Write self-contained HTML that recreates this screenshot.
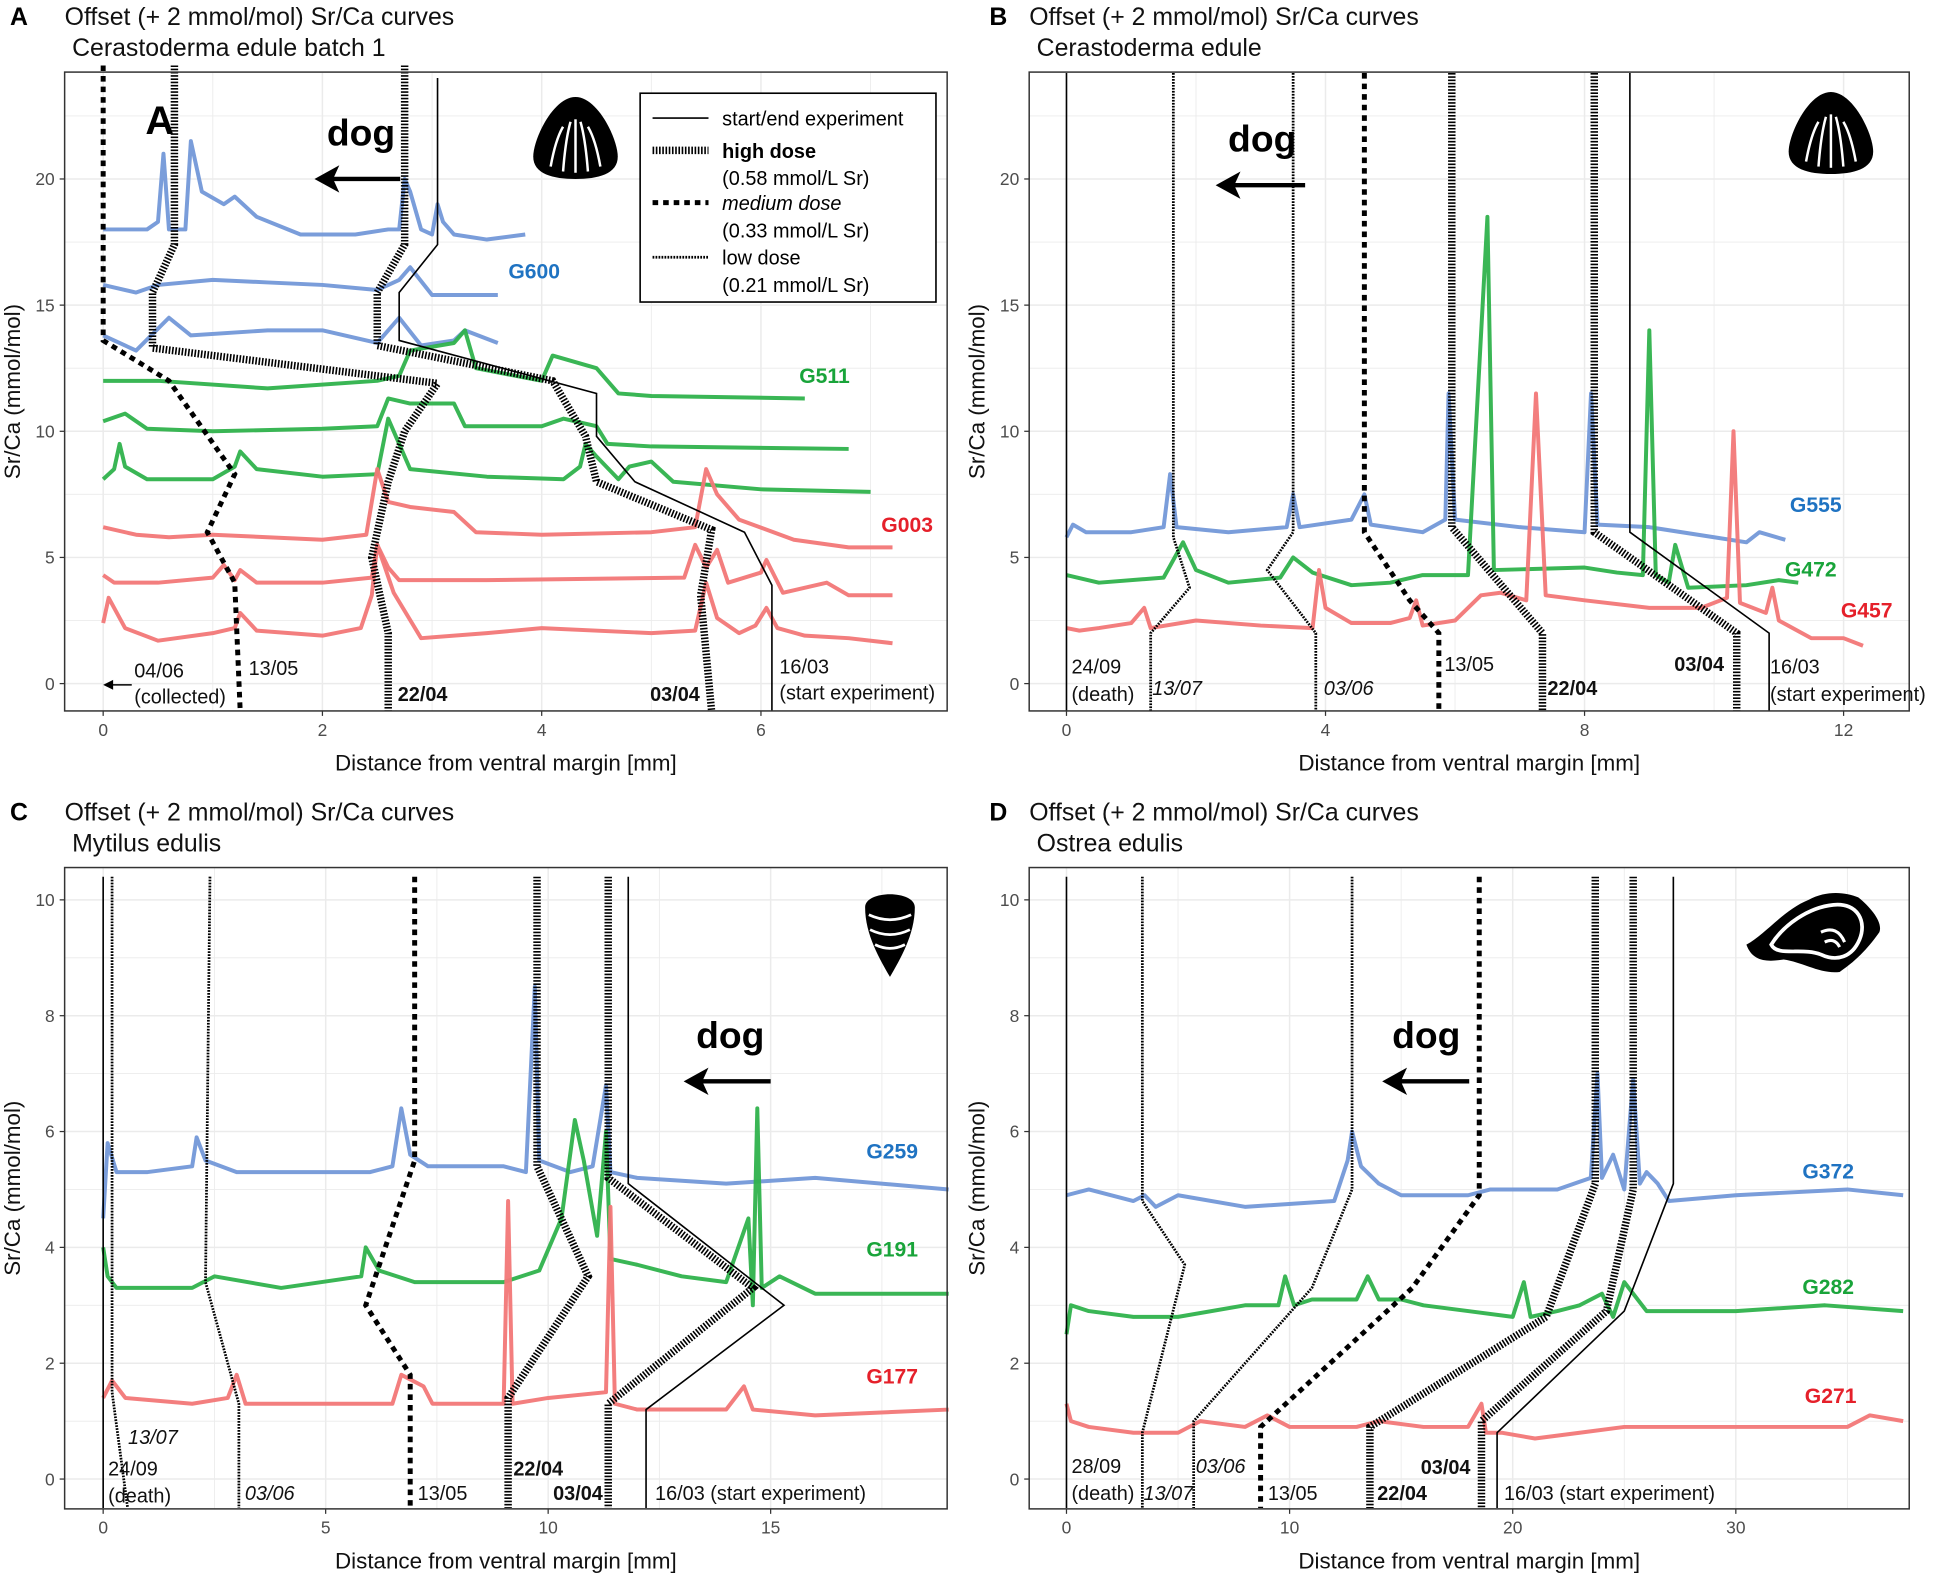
<!DOCTYPE html>
<html><head><meta charset="utf-8"><style>
html,body{margin:0;padding:0;background:#fff}
svg{display:block}
text{font-family:"Liberation Sans",Arial,sans-serif}
</style></head><body>
<svg id="fig" width="1949" height="1576" viewBox="0 0 1568 1268" preserveAspectRatio="none" xmlns="http://www.w3.org/2000/svg">
<rect width="1568" height="1268" fill="#fff"/>
</svg>
<script>
// ---------- DATA ----------
const aBlue1=[[0,18],[0.4,18],[0.5,18.3],[0.55,21],[0.6,18],[0.75,18],[0.8,21.5],[0.9,19.5],[1.1,19],[1.2,19.3],[1.4,18.5],[1.8,17.8],[2.3,17.8],[2.6,18],[2.7,18],[2.75,20],[2.8,19.5],[2.9,18],[3.0,17.8],[3.05,19],[3.1,18.3],[3.2,17.8],[3.5,17.6],[3.85,17.8]];
const aBlue2=[[0,15.8],[0.3,15.5],[0.5,15.8],[1,16],[1.5,15.9],[2,15.8],[2.5,15.6],[2.7,16],[2.8,16.5],[3,15.4],[3.6,15.4]];
const aBlue3=[[0,13.8],[0.3,13.2],[0.6,14.5],[0.8,13.8],[1.5,14],[2,14],[2.5,13.5],[2.7,14.5],[2.9,13.4],[3.2,13.6],[3.3,14],[3.6,13.5]];
const aGreen1=[[0,12],[0.5,12],[1.5,11.7],[2.5,12],[2.7,12.2],[2.8,13.2],[3.2,13.5],[3.3,14],[3.4,12.5],[4,12],[4.1,13],[4.5,12.5],[4.7,11.5],[5,11.4],[6.4,11.3]];
const aGreen2=[[0,10.4],[0.2,10.7],[0.4,10.1],[1,10],[2,10.1],[2.5,10.2],[2.6,11.3],[2.8,11.1],[3.2,11.1],[3.3,10.2],[4,10.2],[4.2,10.5],[4.5,10.2],[4.6,9.5],[5,9.4],[6.8,9.3]];
const aGreen3=[[0,8.1],[0.1,8.5],[0.15,9.5],[0.2,8.6],[0.4,8.1],[1,8.1],[1.2,8.6],[1.25,9.2],[1.4,8.5],[2,8.2],[2.5,8.3],[2.6,10.5],[2.7,9.5],[2.8,8.5],[3.5,8.2],[4.2,8.1],[4.35,8.6],[4.4,9.5],[4.5,9],[4.7,8.1],[4.8,8.6],[5,8.8],[5.2,8],[6,7.7],[7,7.6]];
const aRed1=[[0,6.2],[0.3,5.9],[0.6,5.8],[1,5.9],[1.5,5.8],[2,5.7],[2.4,5.9],[2.5,8.5],[2.6,7.2],[2.8,7],[3.2,6.8],[3.4,6],[4,5.9],[5,6],[5.4,6.2],[5.5,8.5],[5.6,7.5],[5.8,6.5],[6.3,5.7],[6.8,5.4],[7.2,5.4]];
const aRed2=[[0,4.3],[0.1,4],[0.5,4],[1,4.2],[1.1,4.7],[1.2,4.1],[1.25,4.5],[1.4,4],[2,4],[2.45,4.2],[2.5,5.5],[2.6,4.6],[2.7,4.1],[3.5,4.1],[5.3,4.2],[5.4,5.5],[5.5,4.6],[5.6,5.3],[5.7,4],[6,4.4],[6.05,4.9],[6.2,3.6],[6.6,4],[6.8,3.5],[7.2,3.5]];
const aRed3=[[0,2.4],[0.05,3.4],[0.2,2.2],[0.5,1.7],[1,2],[1.2,2.2],[1.25,2.8],[1.4,2.1],[2,1.9],[2.35,2.2],[2.45,3.5],[2.5,5.5],[2.65,3.6],[2.9,1.8],[3.5,2],[4,2.2],[5,2],[5.4,2.1],[5.5,4],[5.6,2.6],[5.8,2],[5.95,2.3],[6.05,3],[6.15,2.2],[6.4,1.9],[6.8,1.8],[7.2,1.6]];
const aMed=[[0,24.5],[0,13.6],[0.6,12],[1.2,8.3],[0.95,6],[1.2,4],[1.25,-1.1]];
const aHigh1=[[0.65,24.5],[0.65,17.4],[0.45,15.5],[0.45,13.3],[3.05,11.9],[2.75,10],[2.6,8],[2.45,5],[2.6,2],[2.6,-1.1]];
const aHigh2=[[2.75,24.5],[2.75,17.4],[2.5,15.5],[2.5,13.4],[4.1,12],[4.4,9.8],[4.5,8],[5.55,6.1],[5.45,3.5],[5.55,-1.1]];
const aStart=[[3.05,24],[3.05,17.4],[2.7,15.5],[2.7,13.6],[4.5,11.5],[4.5,9.8],[4.85,8],[5.85,6],[6.1,3.9],[6.1,-1.1]];

const bBlue=[[0,5.8],[0.1,6.3],[0.3,6],[1,6],[1.5,6.2],[1.6,8.3],[1.7,6.2],[2.5,6],[3.4,6.2],[3.5,7.5],[3.6,6.2],[4.4,6.5],[4.6,7.5],[4.7,6.3],[5.5,6],[5.85,6.5],[5.9,11.5],[6.0,6.5],[7,6.2],[8,6],[8.1,11.5],[8.2,6.3],[9,6.2],[10,5.8],[10.5,5.6],[10.7,6],[11.1,5.7]];
const bGreen=[[0,4.3],[0.5,4],[1.5,4.2],[1.8,5.6],[2,4.5],[2.5,4],[3.3,4.2],[3.5,5],[3.8,4.4],[4.4,3.9],[5,4],[5.5,4.3],[6.2,4.3],[6.5,18.5],[6.6,4.5],[8,4.6],[8.5,4.4],[8.9,4.3],[9,14],[9.1,4.3],[9.3,4],[9.4,5.5],[9.6,3.8],[10.5,3.9],[11,4.1],[11.3,4]];
const bRed=[[0,2.2],[0.2,2.1],[0.5,2.2],[1,2.4],[1.2,3],[1.3,2.2],[2,2.5],[3,2.3],[3.8,2.2],[3.9,4.5],[4,3],[4.4,2.4],[5,2.4],[5.3,2.6],[5.4,3.3],[5.5,2.3],[6,2.5],[6.4,3.5],[6.7,3.6],[7.1,3.3],[7.25,11.5],[7.4,3.5],[8,3.3],[9,3],[9.8,3],[10.2,3.4],[10.3,10],[10.4,3.2],[10.8,2.8],[10.9,3.8],[11,2.5],[11.5,1.8],[12,1.8],[12.3,1.5]];
const bStart0=[[0,24.2],[0,-1.1]];
const bLow1=[[1.65,24.2],[1.65,5.8],[1.9,3.8],[1.3,2],[1.3,-1.1]];
const bLow2=[[3.5,24.2],[3.5,6],[3.1,4.5],[3.85,2],[3.85,-1.1]];
const bMed=[[4.6,24.2],[4.6,6],[5.3,3.3],[5.75,2],[5.75,-1.1]];
const bHigh1=[[5.95,24.2],[5.95,6.2],[7.35,2],[7.35,-1.1]];
const bHigh2=[[8.15,24.2],[8.15,6],[10.35,2],[10.35,-1.1]];
const bStart=[[8.7,24.2],[8.7,6],[10.85,2],[10.85,-1.1]];

const cBlue=[[0,4.5],[0.1,5.8],[0.3,5.3],[1,5.3],[2,5.4],[2.1,5.9],[2.3,5.5],[3,5.3],[4,5.3],[6,5.3],[6.5,5.4],[6.7,6.4],[6.9,5.6],[7.3,5.4],[9,5.4],[9.5,5.3],[9.7,8.5],[9.8,5.5],[10.5,5.3],[11,5.4],[11.3,6.8],[11.4,5.3],[12,5.2],[14,5.1],[16,5.2],[19,5]];
const cGreen=[[0,4],[0.1,3.5],[0.3,3.3],[2,3.3],[2.5,3.5],[4,3.3],[5.8,3.5],[5.9,4],[6.2,3.6],[7,3.4],[9,3.4],[9.8,3.6],[10.3,4.5],[10.6,6.2],[10.8,5.5],[11.1,4.2],[11.3,6],[11.4,3.8],[12,3.7],[13,3.5],[14,3.4],[14.5,4.5],[14.6,3],[14.7,6.4],[14.8,3.3],[15.2,3.5],[16,3.2],[19,3.2]];
const cRed=[[0,1.4],[0.2,1.7],[0.5,1.4],[2,1.3],[2.8,1.4],[3,1.8],[3.2,1.3],[5,1.3],[6.5,1.3],[6.7,1.8],[7.2,1.6],[7.4,1.3],[9,1.3],[9.1,4.8],[9.2,1.3],[10,1.4],[11.3,1.5],[11.4,4.7],[11.5,1.3],[12,1.2],[13,1.2],[14,1.2],[14.4,1.6],[14.6,1.2],[16,1.1],[19,1.2]];
const cStart0=[[0,10.4],[0,-0.5]];
const cLow1=[[0.2,10.4],[0.2,1.5],[0.55,-0.5]];
const cLow2=[[2.4,10.4],[2.3,3.4],[3.05,1.3],[3.05,-0.5]];
const cMed=[[7,10.4],[7,5.5],[5.9,3],[6.9,1.8],[6.9,-0.5]];
const cHigh1=[[9.75,10.4],[9.75,5.4],[10.9,3.5],[9.1,1.4],[9.1,-0.5]];
const cHigh2=[[11.35,10.4],[11.35,5.2],[14.6,3.3],[11.35,1.3],[11.35,-0.5]];
const cStart=[[11.8,10.4],[11.8,5.1],[15.3,3],[12.2,1.2],[12.2,-0.5]];

const dBlue=[[0,4.9],[1,5],[3,4.8],[3.5,4.9],[4,4.7],[5,4.9],[8,4.7],[12,4.8],[12.6,5.5],[12.8,6],[13.2,5.4],[14,5.1],[15,4.9],[18,4.9],[19,5],[22,5],[23.5,5.2],[23.8,7],[24,5.2],[24.5,5.6],[25,5],[25.4,6.9],[25.7,5.1],[26,5.3],[26.5,5.1],[27,4.8],[30,4.9],[35,5],[37.5,4.9]];
const dGreen=[[0,2.5],[0.2,3],[1,2.9],[3,2.8],[5,2.8],[8,3],[9.5,3],[9.8,3.5],[10.2,3],[11,3.1],[13,3.1],[13.5,3.5],[14,3.1],[15,3.1],[16,3],[18,2.9],[20,2.8],[20.5,3.4],[20.8,2.8],[22,2.9],[23,3],[24,3.2],[24.5,2.8],[25,3.4],[26,2.9],[30,2.9],[34,3],[37.5,2.9]];
const dRed=[[0,1.3],[0.2,1],[1,0.9],[3,0.8],[5,0.8],[6,1],[8,0.9],[9,1.1],[10,0.9],[13,0.9],[14,1],[16,0.9],[18,0.9],[18.6,1.3],[18.8,0.8],[19.5,0.8],[21,0.7],[23,0.8],[25,0.9],[30,0.9],[35,0.9],[36,1.1],[37.5,1]];
const dStart0=[[0,10.4],[0,-0.5]];
const dLow1=[[3.4,10.4],[3.4,4.8],[5.3,3.7],[3.4,0.8],[3.4,-0.5]];
const dLow2=[[12.8,10.4],[12.8,5],[11,3.3],[5.7,1],[5.7,-0.5]];
const dMed=[[18.5,10.4],[18.5,4.9],[15.5,3.3],[8.7,0.9],[8.7,-0.5]];
const dHigh1=[[23.7,10.4],[23.7,5.1],[21.5,2.8],[13.6,0.9],[13.6,-0.5]];
const dHigh2=[[25.4,10.4],[25.4,5],[24.2,2.9],[18.6,1],[18.6,-0.5]];
const dStart=[[27.2,10.4],[27.2,5.1],[25,2.9],[19.3,0.8],[19.3,-0.5]];

const xTicksA=[0,2,4,6], yTicksA=[0,5,10,15,20];
const xTicksB=[0,4,8,12];
const xTicksC=[0,5,10,15], yTicksC=[0,2,4,6,8,10];
const xTicksD=[0,10,20,30];

// ---------- DRAW ----------
const NS="http://www.w3.org/2000/svg";
const svg=document.getElementById('fig');
function el(tag,attrs,parent){const e=document.createElementNS(NS,tag);for(const k in attrs)e.setAttribute(k,attrs[k]);(parent||svg).appendChild(e);return e;}
function txt(s,x,y,size,attrs,name){const t=el('text',Object.assign({x:x,y:y,'font-size':size},attrs||{}));t.textContent=s;


return t;}
const COL={blue:"#7398d8",green:"#2fb24c",red:"#f27777"};
const LCOL={blue:"#1f73c2",green:"#19a43a",red:"#e5202a"};
const STY={
 solid:{w:1.3,d:null},
 high:{w:6,d:"1.3 1.3"},
 med:{w:4,d:"4.5 4"},
 low:{w:2.2,d:"1.4 1"}
};

function panel(cfg){
 const g=el('g',{});
 
 
 const sx=v=>cfg.px0+v*cfg.kx, sy=v=>cfg.py0-v*cfg.ky;
 const B=cfg.box;
 const grid=el('g',{},g);
 
 
 const xs=cfg.xt, ys=cfg.yt;
 const dx=xs[1]-xs[0], dy=ys[1]-ys[0];
 for(let v=xs[0]-dx;v<=xs[xs.length-1]+dx;v+=dx/2){const p=sx(v);if(p>B[0]&&p<B[2])el('line',{x1:p,x2:p,y1:B[1],y2:B[3],stroke:"#ebebeb","stroke-width":Math.abs((v/dx)%1)<1e-6?1.2:0.7},grid);}
 for(let v=ys[0]-dy;v<=ys[ys.length-1]+dy;v+=dy/2){const p=sy(v);if(p>B[1]&&p<B[3])el('line',{x1:B[0],x2:B[2],y1:p,y2:p,stroke:"#ebebeb","stroke-width":Math.abs((v/dy)%1)<1e-6?1.2:0.7},grid);}
 cfg.series.forEach(s=>{
  const p=el('polyline',{points:s.d.map(q=>sx(q[0])+","+sy(q[1])).join(" "),fill:"none",stroke:COL[s.c],"stroke-width":3.2,"stroke-linejoin":"round",opacity:0.95},g);
  
  
 });
 cfg.lines.forEach(s=>{
  const st=STY[s.t];
  const a={points:s.d.map(q=>sx(q[0])+","+sy(q[1])).join(" "),fill:"none",stroke:"#000","stroke-width":st.w};
  if(st.d)a["stroke-dasharray"]=st.d;
  const p=el('polyline',a,g);
  
  
 });
 const r=el('rect',{x:B[0],y:B[1],width:B[2]-B[0],height:B[3]-B[1],fill:"none",stroke:"#333","stroke-width":1.2},g);
 
 
 xs.forEach(v=>{el('line',{x1:sx(v),x2:sx(v),y1:B[3],y2:B[3]+4,stroke:"#333"},g);txt(String(v),sx(v),B[3]+20,14,{fill:"#4d4d4d","text-anchor":"middle"},'x-tick-label');});
 ys.forEach(v=>{el('line',{x1:B[0]-4,x2:B[0],y1:sy(v),y2:sy(v),stroke:"#333"},g);txt(String(v),B[0]-8,sy(v)+5,14,{fill:"#4d4d4d","text-anchor":"end"},'y-tick-label');});
 txt("Distance from ventral margin [mm]",(B[0]+B[2])/2,B[3]+48,18,{"text-anchor":"middle",fill:"#111"},'x-axis-title');
 txt("Sr/Ca (mmol/mol)",0,0,18,{"text-anchor":"middle",fill:"#111",transform:`translate(${B[0]-36},${(B[1]+B[3])/2}) rotate(-90)`},'y-axis-title');
 txt(cfg.letter,cfg.lx,B[1]-38,20,{"font-weight":"bold"},'panel-letter');
 txt("Offset (+ 2 mmol/mol) Sr/Ca curves",B[0],B[1]-38,20,{fill:"#111"},'panel-title');
 txt(cfg.sub,B[0]+6,B[1]-13,20,{fill:"#111"},'panel-subtitle');
 cfg.labels.forEach(l=>txt(l[0],l[1],l[2],17,{fill:LCOL[l[3]],"font-weight":"bold"},'series-label'));
 cfg.ann.forEach(a=>{const at={fill:"#111"};if(a[3]==="b")at["font-weight"]="bold";if(a[3]==="i")at["font-style"]="italic";txt(a[0],a[1],a[2],16,at,'date-annotation');});
 txt("dog",cfg.dog[0],cfg.dog[1],30,{"font-weight":"bold"},'dog-label');
 const ay=cfg.dog[1]+27, ax1=cfg.dog[2], ax0=cfg.dog[3];
 el('line',{x1:ax1,x2:ax0+14,y1:ay,y2:ay,stroke:"#000","stroke-width":3.5},g);
 el('polygon',{points:`${ax0},${ay} ${ax0+20},${ay-11} ${ax0+15},${ay} ${ax0+20},${ay+11}`,fill:"#000"},g);
 return {g,sx,sy};
}

const A=panel({name:"panel-a",letter:"A",lx:8,sub:"Cerastoderma edule batch 1",box:[52,58,762,572],px0:83,kx:88.2,py0:550,ky:20.3,xt:xTicksA,yt:yTicksA,
 series:[{d:aBlue1,c:"blue",n:"g600-curve-1"},{d:aBlue2,c:"blue",n:"g600-curve-2"},{d:aBlue3,c:"blue",n:"g600-curve-3"},{d:aGreen1,c:"green",n:"g511-curve-1"},{d:aGreen2,c:"green",n:"g511-curve-2"},{d:aGreen3,c:"green",n:"g511-curve-3"},{d:aRed1,c:"red",n:"g003-curve-1"},{d:aRed2,c:"red",n:"g003-curve-2"},{d:aRed3,c:"red",n:"g003-curve-3"}],
 lines:[{d:aMed,t:"med",n:"medium-dose-line"},{d:aHigh1,t:"high",n:"high-dose-line-22-04"},{d:aHigh2,t:"high",n:"high-dose-line-03-04"},{d:aStart,t:"solid",n:"start-line"}],
 labels:[["G600",409,224,"blue"],["G511",643,308,"green"],["G003",709,428,"red"]],
 ann:[["04/06",108,545],["(collected)",108,566],["13/05",200,543],["22/04",320,564,"b"],["03/04",523,564,"b"],["16/03",627,542],["(start experiment)",627,563]],
 dog:[263,117,322,253]});
txt("A",117,108,32,{"font-weight":"bold"},'inset-letter');
el('line',{x1:106,x2:86,y1:551,y2:551,stroke:"#000","stroke-width":1.2});
el('polygon',{points:"83,551 91,547 91,555",fill:"#000"});
(function(){
 const g=el('g',{});
 el('rect',{x:515,y:75,width:238,height:168,fill:"#fff",stroke:"#000","stroke-width":1.3},g);
 const items=[["solid",95],["high",121],["med",163],["low",207]];
 items.forEach(i=>{const st=STY[i[0]];const a={x1:525,x2:570,y1:i[1],y2:i[1],stroke:"#000","stroke-width":st.w};if(st.d)a["stroke-dasharray"]=st.d;const l=el('line',a,g);
 });
 txt("start/end experiment",581,101,16,{},'legend-entry');
 txt("high dose",581,127,16,{"font-weight":"bold"},'legend-entry');
 txt("(0.58 mmol/L Sr)",581,149,16,{},'legend-entry');
 txt("medium dose",581,169,16,{"font-style":"italic"},'legend-entry');
 txt("(0.33 mmol/L Sr)",581,191,16,{},'legend-entry');
 txt("low dose",581,213,16,{},'legend-entry');
 txt("(0.21 mmol/L Sr)",581,235,16,{},'legend-entry');
})();

const Bp=panel({name:"panel-b",letter:"B",lx:796,sub:"Cerastoderma edule",box:[828,58,1536,572],px0:858,kx:52.1,py0:550,ky:20.3,xt:xTicksB,yt:yTicksA,
 series:[{d:bBlue,c:"blue",n:"g555-curve"},{d:bGreen,c:"green",n:"g472-curve"},{d:bRed,c:"red",n:"g457-curve"}],
 lines:[{d:bStart0,t:"solid",n:"end-line"},{d:bLow1,t:"low",n:"low-dose-line-13-07"},{d:bLow2,t:"low",n:"low-dose-line-03-06"},{d:bMed,t:"med",n:"medium-dose-line"},{d:bHigh1,t:"high",n:"high-dose-line-22-04"},{d:bHigh2,t:"high",n:"high-dose-line-03-04"},{d:bStart,t:"solid",n:"start-line"}],
 labels:[["G555",1440,412,"blue"],["G472",1436,464,"green"],["G457",1481,497,"red"]],
 ann:[["24/09",862,542],["(death)",862,564],["13/07",927,559,"i"],["03/06",1065,559,"i"],["13/05",1162,540],["22/04",1245,559,"b"],["03/04",1347,540,"b"],["16/03",1424,542],["(start experiment)",1424,564]],
 dog:[988,122,1050,978]});

const C=panel({name:"panel-c",letter:"C",lx:8,sub:"Mytilus edulis",box:[52,698,762,1214],px0:83,kx:35.8,py0:1190,ky:46.6,xt:xTicksC,yt:yTicksC,
 series:[{d:cBlue,c:"blue",n:"g259-curve"},{d:cGreen,c:"green",n:"g191-curve"},{d:cRed,c:"red",n:"g177-curve"}],
 lines:[{d:cStart0,t:"solid",n:"end-line"},{d:cLow1,t:"low",n:"low-dose-line-13-07"},{d:cLow2,t:"low",n:"low-dose-line-03-06"},{d:cMed,t:"med",n:"medium-dose-line"},{d:cHigh1,t:"high",n:"high-dose-line-22-04"},{d:cHigh2,t:"high",n:"high-dose-line-03-04"},{d:cStart,t:"solid",n:"start-line"}],
 labels:[["G259",697,932,"blue"],["G191",697,1011,"green"],["G177",697,1113,"red"]],
 ann:[["13/07",103,1162,"i"],["24/09",87,1187],["(death)",87,1209],["03/06",197,1207,"i"],["13/05",336,1207],["22/04",413,1187,"b"],["03/04",445,1207,"b"],["16/03 (start experiment)",527,1207]],
 dog:[560,843,620,550]});

const D=panel({name:"panel-d",letter:"D",lx:796,sub:"Ostrea edulis",box:[828,698,1536,1214],px0:858,kx:17.95,py0:1190,ky:46.6,xt:xTicksD,yt:yTicksC,
 series:[{d:dBlue,c:"blue",n:"g372-curve"},{d:dGreen,c:"green",n:"g282-curve"},{d:dRed,c:"red",n:"g271-curve"}],
 lines:[{d:dStart0,t:"solid",n:"end-line"},{d:dLow1,t:"low",n:"low-dose-line-13-07"},{d:dLow2,t:"low",n:"low-dose-line-03-06"},{d:dMed,t:"med",n:"medium-dose-line"},{d:dHigh1,t:"high",n:"high-dose-line-22-04"},{d:dHigh2,t:"high",n:"high-dose-line-03-04"},{d:dStart,t:"solid",n:"start-line"}],
 labels:[["G372",1450,948,"blue"],["G282",1450,1041,"green"],["G271",1452,1129,"red"]],
 ann:[["28/09",862,1185],["(death)",862,1207],["13/07",920,1207,"i"],["03/06",962,1185,"i"],["13/05",1020,1207],["22/04",1108,1207,"b"],["03/04",1143,1186,"b"],["16/03 (start experiment)",1210,1207]],
 dog:[1120,843,1182,1112]});

function cockle(cx,cy,name){
 const g=el('g',{transform:`translate(${cx},${cy})`});
 
 
 el('path',{d:"M0,-34 C-18,-34 -34,0 -34,14 C-34,28 -18,32 0,32 C18,32 34,28 34,14 C34,0 18,-34 0,-34 Z",fill:"#000"},g);
 [[-20,22,-10,-10],[-10,26,-4,-14],[0,27,0,-16],[10,26,4,-14],[20,22,10,-10]].forEach(l=>el('path',{d:`M${l[0]},${l[1]} Q${l[0]*0.8},0 ${l[2]},${l[3]}`,stroke:"#fff","stroke-width":2,fill:"none"},g));
}
cockle(463,112,"cockle-icon");
cockle(1473,108,"cockle-icon");
(function(){
 const g=el('g',{transform:"translate(716,752)"});
 
 el('path',{d:"M-20,-22 C-20,-36 20,-36 20,-22 C20,0 8,20 0,34 C-8,20 -20,0 -20,-22 Z",fill:"#000"},g);
 el('path',{d:"M-17,-16 Q0,-8 17,-16 M-16,-4 Q0,4 16,-4 M-12,8 Q0,14 12,8",stroke:"#fff","stroke-width":2.2,fill:"none"},g);
})();
(function(){
 const g=el('g',{transform:"translate(1460,752)"});
 
 el('path',{d:"M-55,8 C-40,0 -25,-20 -5,-28 C10,-36 25,-34 35,-30 C45,-22 55,-10 52,-2 C45,8 35,20 20,30 C5,32 -10,22 -25,20 C-38,22 -50,22 -55,8 Z",fill:"#000"},g);
 el('path',{d:"M-35,8 C-25,-8 -5,-22 15,-24 C35,-26 42,-10 36,4 C30,18 18,22 5,16 C-10,10 -30,18 -35,8 Z",stroke:"#fff","stroke-width":3,fill:"none"},g);
 el('path',{d:"M5,-2 Q18,-8 24,6 M8,6 Q16,2 20,10",stroke:"#fff","stroke-width":2.5,fill:"none"},g);
})();
</script>
</body></html>
